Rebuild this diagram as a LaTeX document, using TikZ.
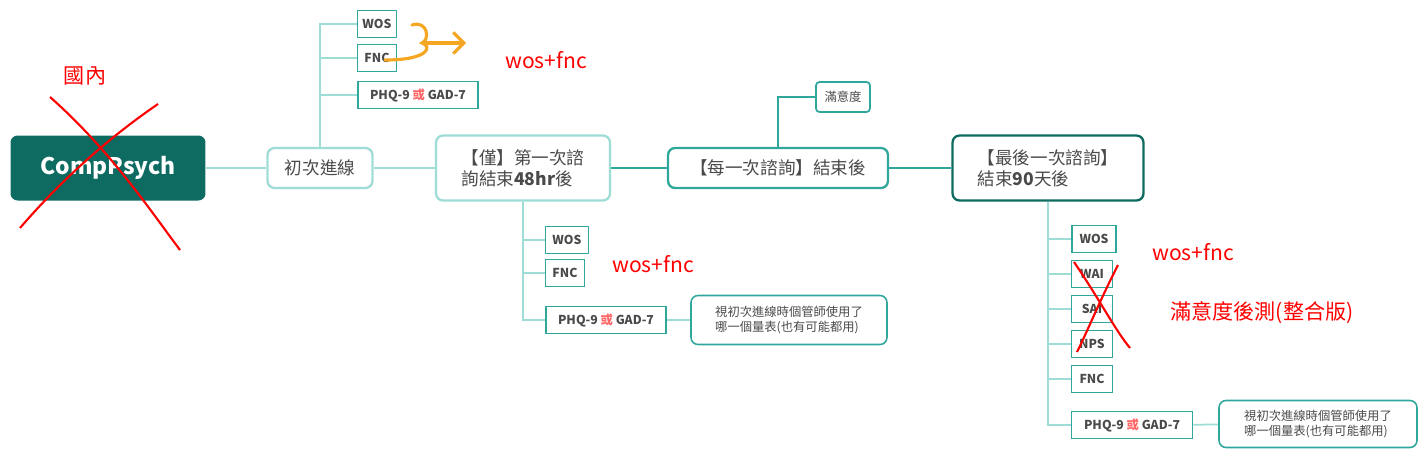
\documentclass[tikz,border=0pt]{standalone}
\usepackage{fontspec}
\setmainfont{Noto Sans CJK TC}
\usetikzlibrary{arrows.meta}
\definecolor{darkteal}{HTML}{0E6B62}
\definecolor{midteal}{HTML}{2FA79B}
\definecolor{lightteal}{HTML}{9EDCD6}
\definecolor{leafgray}{HTML}{4A4A4A}
\definecolor{orcol}{HTML}{F5A623}
\tikzset{
  topic/.style={draw=lightteal, line width=1.3pt, rounded corners=4pt, text=leafgray, font=\fontsize{10}{12}\selectfont, align=left, inner sep=0pt},
  leaf/.style={draw=midteal, line width=1pt, text=leafgray, font=\fontsize{7}{8}\selectfont\bfseries, inner sep=0pt, minimum height=0.54cm},
  note/.style={draw=midteal, line width=0.9pt, rounded corners=4pt, text=leafgray, font=\fontsize{7}{9}\selectfont, align=left, inner sep=0pt},
  link/.style={lightteal, line width=1pt},
  mainlink/.style={midteal, line width=1.5pt},
  remark/.style={red, font=\fontsize{12}{14}\selectfont},
  cross/.style={red, line width=1.2pt}
}
\newcommand{\huo}{\textcolor{red!60}{或}}
\begin{document}
\begin{tikzpicture}[x=0.02cm, y=-0.02cm]
  \useasboundingbox (0,0) rectangle (1423,454);
  % main chain
  \node[fill=darkteal, rounded corners=4pt, text=white, font=\fontsize{13}{15}\selectfont\bfseries, minimum width=3.9cm, minimum height=1.3cm] (root) at (108,168) {CompPsych};
  \node[topic, minimum width=2.1cm, minimum height=0.8cm, align=center] (first) at (320,168) {初次進線};
  \node[topic, minimum width=3.48cm, minimum height=1.3cm] (only) at (523,168) {【僅】第一次諮\\詢結束\textbf{48hr}後};
  \node[topic, draw=midteal, minimum width=4.4cm, minimum height=0.8cm, align=center] (every) at (778,168) {【每一次諮詢】結束後};
  \node[topic, draw=midteal, line width=1pt, rounded corners=2pt, font=\fontsize{7}{8}\selectfont, minimum width=1.08cm, minimum height=0.6cm, align=center] (satis) at (843,97) {滿意度};
  \node[topic, draw=darkteal, minimum width=3.82cm, minimum height=1.3cm] (last) at (1048,168) {【最後一次諮詢】\\結束\textbf{90}天後};
  \draw[link] (root) -- (first);
  \draw[link] (first) -- (only);
  \draw[mainlink] (only) -- (every);
  \draw[mainlink] (every) -- (last);
  \draw[mainlink, line width=1pt] (every.north) |- (satis.west);
  % first contact leaves
  \node[leaf, minimum width=0.78cm] (wosA) at (377,24) {WOS};
  \node[leaf, minimum width=0.78cm] (fncA) at (377,58) {FNC};
  \node[leaf, minimum width=2.4cm] (phqA) at (418,95) {PHQ-9 \huo{} GAD-7};
  \foreach \n in {wosA,fncA,phqA}
    \draw[link] (first.north) |- (\n.west);
  % 48hr leaves
  \node[leaf, minimum width=0.86cm] (wosB) at (567,240) {WOS};
  \node[leaf, minimum width=0.78cm] (fncB) at (565,273) {FNC};
  \node[leaf, minimum width=2.4cm] (phqB) at (606,320) {PHQ-9 \huo{} GAD-7};
  \node[note, minimum width=3.92cm, minimum height=0.98cm] (noteB) at (789,320) {視初次進線時個管師使用了\\哪一個量表(也有可能都用)};
  \foreach \n in {wosB,fncB,phqB}
    \draw[link] (only.south) |- (\n.west);
  \draw[link] (phqB) -- (noteB);
  % 90 day leaves
  \node[leaf, minimum width=0.88cm] (wosC) at (1094,239) {WOS};
  \node[leaf, minimum width=0.82cm] (waiC) at (1092,274) {WAI};
  \node[leaf, minimum width=0.82cm] (saiC) at (1092,309) {SAI};
  \node[leaf, minimum width=0.82cm] (npsC) at (1092,344) {NPS};
  \node[leaf, minimum width=0.82cm] (fncC) at (1092,379) {FNC};
  \node[leaf, minimum width=2.42cm] (phqC) at (1132,425) {PHQ-9 \huo{} GAD-7};
  \node[note, minimum width=3.96cm, minimum height=0.94cm] (noteC) at (1318,424) {視初次進線時個管師使用了\\哪一個量表(也有可能都用)};
  \foreach \n in {wosC,waiC,saiC,npsC,fncC,phqC}
    \draw[link] (last.south) |- (\n.west);
  \draw[link] (phqC) -- (noteC);
  % handwritten remarks
  \node[remark] (domestic) at (85,76) {國內};
  \node[remark] (remA) at (546,60) {wos+fnc};
  \node[remark] (remB) at (653,264) {wos+fnc};
  \node[remark] (remC) at (1193,252) {wos+fnc};
  \node[remark] (remD) at (1262,313) {滿意度後測(整合版)};
  \draw[cross] (50,97) .. controls (110,150) and (150,210) .. (180,250);
  \draw[cross] (20,228) .. controls (70,170) and (120,130) .. (158,104);
  \draw[cross] (1074,262) .. controls (1100,300) and (1115,330) .. (1130,348);
  \draw[cross] (1118,265) .. controls (1100,300) and (1088,330) .. (1077,352);
  % orange bracket and arrow
  \coordinate (brTop) at (412,25);
  \coordinate (brTip) at (466,43);
  \draw[orcol, line width=1.8pt, line cap=round] (brTop) .. controls (428,20) and (430,40) .. (422,43)
    .. controls (432,46) and (430,60) .. (385,60);
  \draw[orcol, line width=1.8pt, line cap=round, -{Straight Barb[length=6pt,width=12pt]}] (424,43) -- (brTip);
\end{tikzpicture}
\end{document}
